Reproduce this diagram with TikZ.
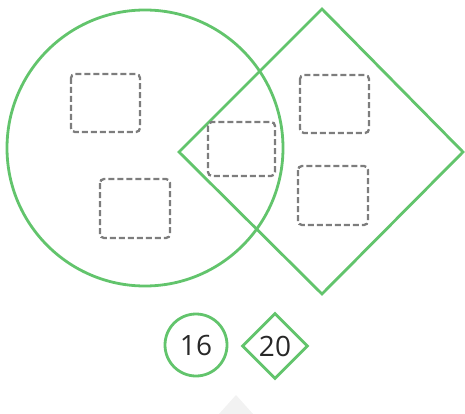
\documentclass[tikz,border=0pt]{standalone}
\usepackage{fontspec}
\setmainfont{Open Sans}
\usetikzlibrary{shapes.geometric}
\begin{document}
\begin{tikzpicture}[x=1pt,y=-1pt,
  shapeline/.style={draw=shapegreen,line width=2.8pt,line join=miter},
  slot/.style={draw=slotgrey,line width=2.3pt,dash pattern=on 6pt off 3pt,rounded corners=4pt},
  numtext/.style={font=\fontsize{28}{28}\selectfont,text=numgrey}]
\definecolor{shapegreen}{RGB}{98,196,108}
\definecolor{slotgrey}{RGB}{125,125,125}
\definecolor{numgrey}{RGB}{40,40,40}
\definecolor{faintgrey}{RGB}{242,242,242}
\useasboundingbox (0,0) rectangle (465,414);
% faint triangle at the bottom
\fill[faintgrey] (236,395) -- (219,414) -- (253,414) -- cycle;
% large shapes
\draw[shapeline] (145,148) circle[radius=138];
\draw[shapeline] (322,9) -- (463,152) -- (322,294) -- (179,152) -- cycle;
% dashed slots
\draw[slot] (71,74) rectangle (140,132);
\draw[slot] (100,179) rectangle (170,238);
\draw[slot] (208,122) rectangle (275,176);
\draw[slot] (300,75) rectangle (369,133);
\draw[slot] (298,166) rectangle (368,225);
% small shapes with numbers
\node[shapeline,circle,minimum size=62pt,inner sep=0pt,numtext] (c16) at (196,345) {16};
\node[shapeline,diamond,minimum size=66pt,inner sep=0pt,numtext] (d20) at (275,346) {20};
\end{tikzpicture}
\end{document}
